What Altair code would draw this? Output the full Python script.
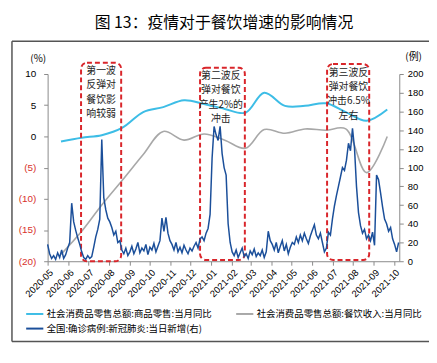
import altair as alt
import pandas as pd

# ---------------- data ----------------
S1 = "社会消费品零售总额:商品零售:当月同比"
S2 = "社会消费品零售总额:餐饮收入:当月同比"
S3 = "全国:确诊病例:新冠肺炎:当日新增(右)"

month_dates = ["2020-05-21", "2020-06-21", "2020-07-21", "2020-08-21", "2020-09-21",
               "2020-10-21", "2020-11-21", "2020-12-21", "2021-01-21", "2021-02-21",
               "2021-03-21", "2021-04-21", "2021-05-21", "2021-06-21", "2021-07-21",
               "2021-08-21", "2021-09-21"]
goods_yoy = [-0.8, -0.2, 0.2, 1.4, 3.9, 4.7, 5.8, 5.2, 4.4, 3.8, 7.0, 4.9, 4.9, 5.3, 3.9, 2.5, 4.3]
catering_yoy = [-18.9, -15.2, -11.0, -7.0, -2.9, 0.8, -0.6, 0.4, -0.6, -1.9, 1.1, 0.5, 1.2, 1.0, 1.2, -5.8, 0.0]

case_start = "2020-05-01"
case_step_days = 3
case_values = [18, 8, 3, 6, 2, 9, 4, 12, 3, 7, 14,
               20, 62, 42, 33, 25, 18, 10,
               4, 2, 6, 3, 5, 15,
               26, 34, 45, 130, 68, 55, 46, 42,
               36, 28, 32, 20, 22,
               12, 8, 14, 6,
               10, 16, 8, 13, 20, 9, 14, 11, 18, 7, 15, 12, 19, 10, 16, 22,
               46, 32, 47, 30, 22,
               18, 12, 20, 10, 15, 9, 17, 12, 8, 14, 11, 16,
               20, 14, 24,
               26, 22, 30, 35,
               50, 110, 144, 135, 129, 144, 115, 100, 92, 40, 20,
               10, 6, 12, 4, 9, 14, 5, 8, 3, 11, 7, 13, 5, 9, 6, 12, 4, 10,
               32, 22, 18,
               12, 20, 9, 16, 22, 11, 18, 8, 15, 20,
               18, 26, 20, 28, 22, 30, 24, 19, 27, 33, 39, 28, 24, 30, 20,
               10, 14, 31,
               28, 45, 59, 70, 80,
               90, 100, 97, 108,
               126, 118, 142, 121,
               80, 52,
               38, 30, 34, 24, 28,
               22, 31, 17,
               92, 87,
               73, 58, 45,
               40, 32, 36, 24,
               18, 10, 20]

box_start = ["2020-06-20", "2020-12-15", "2021-06-23"]
box_end = ["2020-08-19", "2021-02-20", "2021-08-25"]
box_top = [11.8, 11.0, 11.6]
box_bottom = [-20.0, -19.8, -19.8]
note_dates = ["2020-07-20", "2021-01-15", "2021-07-25"]
note_top = [11.3, 10.5, 11.0]
note_text = ["第一波\n反弹对\n餐饮影\n响较弱", "第二波反\n弹对餐饮\n产生2%的\n冲击", "第三波反\n弹对餐饮\n冲击6.5%\n左右"]

title_text = "图 13：疫情对于餐饮增速的影响情况"

# ---------------- frames ----------------
goods_df = pd.DataFrame({"date": month_dates, "value": goods_yoy, "series": S1})
cat_df = pd.DataFrame({"date": month_dates, "value": catering_yoy, "series": S2})
case_dates = pd.date_range(case_start, periods=len(case_values), freq=f"{case_step_days}D").strftime("%Y-%m-%d")
case_df = pd.DataFrame({"date": list(case_dates), "cases": case_values, "series": S3})
box_df = pd.DataFrame({"start": box_start, "end": box_end, "top": box_top, "bottom": box_bottom})
note_df = pd.DataFrame({"date": note_dates, "top": note_top, "text": note_text})
one = pd.DataFrame({"a": [0]})

CJK = "Noto Sans CJK SC"
LAT = "Liberation Sans"
AX = "#8a8a8a"

x_scale = alt.Scale(type="utc",
                    domain=[alt.DateTime(year=2020, month=5, date=1, utc=True),
                            alt.DateTime(year=2021, month=10, date=9, utc=True)],
                    nice=False)
x_axis = alt.Axis(title=None, tickCount={"interval": "month", "step": 1},
                  labelExpr="utcFormat(datum.value, '%Y-%m')", labelAngle=315,
                  labelFont=LAT, labelFontSize=9.5, labelColor="black", labelOverlap=False,
                  labelBound=False, labelFlush=False,
                  domainColor=AX, tickColor=AX, tickSize=4, grid=False, labelPadding=2)

y_scale = alt.Scale(domain=[-20, 10], nice=False, zero=False)
y_axis = alt.Axis(values=[-20, -15, -10, -5, 0, 5, 10], grid=False,
                  labelExpr="datum.value < 0 ? '(' + abs(datum.value) + ')' : '' + datum.value",
                  labelColor={"condition": {"test": "datum.value < 0", "value": "#d8312b"}, "value": "black"},
                  labelFont=LAT, labelFontSize=10, labelPadding=8, tickSize=4,
                  domainColor=AX, tickColor=AX,
                  title="(%)", titleAngle=0, titleX=-10, titleY=-16, titleAlign="center",
                  titleBaseline="middle", titleFont=CJK, titleFontSize=10, titleFontWeight="normal")

color_scale = alt.Scale(domain=[S1, S2, S3], range=["#3dbde6", "#a8a8a8", "#1b4f9a"])
legend = alt.Legend(orient="none", legendX=-23, legendY=232, columns=2, direction="horizontal",
                    title=None, symbolType="stroke", symbolSize=300, symbolStrokeWidth=2,
                    labelFont=CJK, labelFontSize=9.5, labelLimit=0, labelOffset=2,
                    columnPadding=20, rowPadding=-2, padding=0)

X = alt.X("date:T", scale=x_scale, axis=x_axis)

goods = alt.Chart(goods_df).mark_line(interpolate="catmull-rom", strokeWidth=2).encode(
    x=X, y=alt.Y("value:Q", scale=y_scale, axis=y_axis),
    color=alt.Color("series:N", scale=color_scale, legend=legend))
catering = alt.Chart(cat_df).mark_line(interpolate="catmull-rom", strokeWidth=1.6).encode(
    x=X, y=alt.Y("value:Q", scale=y_scale, axis=y_axis),
    color=alt.Color("series:N", scale=color_scale, legend=legend))

boxes = alt.Chart(box_df).mark_rect(fillOpacity=0, stroke="#d9262b", strokeWidth=2,
                                    strokeDash=[5, 3], cornerRadius=6).encode(
    x=alt.X("start:T", scale=x_scale, axis=x_axis), x2="end:T",
    y=alt.Y("top:Q", scale=y_scale, axis=y_axis), y2="bottom:Q")

notes = alt.Chart(note_df).mark_text(font=CJK, fontSize=10, lineBreak="\n", lineHeight=14.5,
                                     baseline="top", align="center", color="#222222").encode(
    x=alt.X("date:T", scale=x_scale, axis=x_axis),
    y=alt.Y("top:Q", scale=y_scale, axis=y_axis), text="text:N")

frame_left = alt.Chart(one).mark_rule(color="#555555", strokeWidth=1.5).encode(
    x=alt.value(-36), y=alt.value(-33), y2=alt.value(270))
frame_top = alt.Chart(one).mark_rule(color="#555555", strokeWidth=1.5).encode(
    x=alt.value(-36), x2=alt.value(400), y=alt.value(-33))
frame_bottom = alt.Chart(one).mark_rule(color="#555555", strokeWidth=1.5).encode(
    x=alt.value(-36), x2=alt.value(400), y=alt.value(270))
title = alt.Chart(one).mark_text(font=CJK, fontSize=16, fontWeight="normal", color="black",
                                 align="center", baseline="middle").encode(
    x=alt.value(178), y=alt.value(-51), text=alt.value(title_text))

cases = alt.Chart(case_df).mark_line(strokeWidth=1.5).encode(
    x=X,
    y=alt.Y("cases:Q", scale=alt.Scale(domain=[0, 200], nice=False),
            axis=alt.Axis(orient="right", values=list(range(0, 201, 20)), grid=False,
                          labelFont=LAT, labelFontSize=9.5, labelPadding=4, tickSize=4,
                          labelColor="black", domainColor=AX, tickColor=AX,
                          title="(例)", titleAngle=0, titleX=14, titleY=-18, titleAlign="center",
                          titleBaseline="middle", titleFont=CJK, titleFontSize=10,
                          titleFontWeight="normal")),
    color=alt.Color("series:N", scale=color_scale, legend=legend))

left = alt.layer(goods, catering, boxes, notes, frame_left, frame_top, frame_bottom, title)
chart = alt.layer(left, cases).resolve_scale(y="independent").properties(
    width=355, height=189,
    autosize=alt.AutoSizeParams(type="none"),
    padding={"left": 40, "top": 65, "right": 30, "bottom": 90},
).configure_view(stroke=None)

chart.save("out.html", embed_options={"renderer": "svg", "actions": False})
